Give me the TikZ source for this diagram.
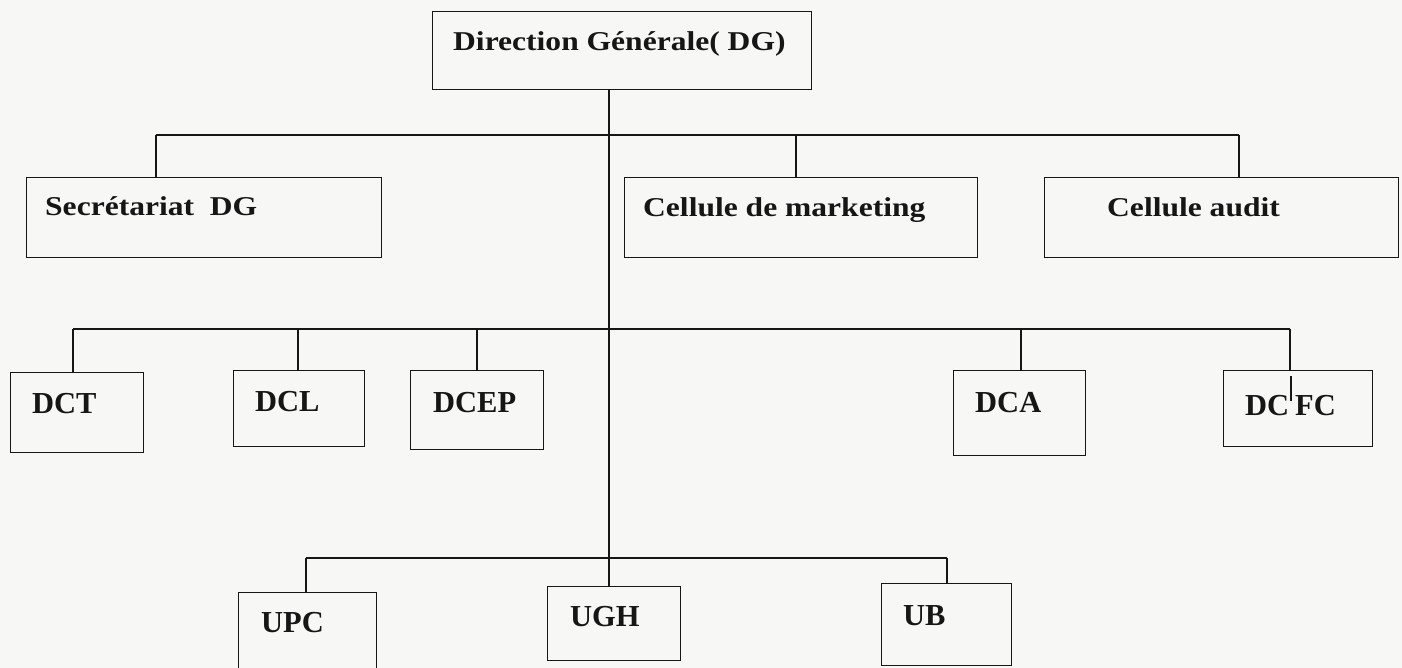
\documentclass[tikz,border=0pt]{standalone}
\usepackage{fontspec}
\setmainfont{Liberation Serif}
% wider face for the labels of the first two levels
\newfontfamily\widefont{Liberation Serif}[FakeStretch=1.16]
\definecolor{paper}{RGB}{247,247,245}
\definecolor{ink}{RGB}{22,22,22}
\begin{document}
\begin{tikzpicture}[x=1pt,y=-1pt,
  unitbox/.style={draw=ink, line width=1.4pt, inner sep=0pt, anchor=north west},
  toplbl/.style={inner sep=0pt, anchor=base west, text=ink, font=\widefont\bfseries\fontsize{27.2}{30}\selectfont},
  lbl/.style={inner sep=0pt, anchor=base west, text=ink, font=\bfseries\fontsize{30.5}{34}\selectfont},
  link/.style={draw=ink, line width=1.4pt}]
\clip (0,0) rectangle (1402,668);
\fill[paper] (0,0) rectangle (1402,668);

% ---- boxes ----
\node[unitbox, minimum width=379pt, minimum height=78pt] (dg)   at (432,11)  {};
\node[unitbox, minimum width=355pt, minimum height=80pt] (sec)  at (26,177)  {};
\node[unitbox, minimum width=353pt, minimum height=80pt] (mkt)  at (624,177) {};
\node[unitbox, minimum width=354pt, minimum height=80pt] (aud)  at (1044,177) {};
\node[unitbox, minimum width=133pt, minimum height=80pt] (dct)  at (10,372)  {};
\node[unitbox, minimum width=131pt, minimum height=76pt] (dcl)  at (233,370) {};
\node[unitbox, minimum width=133pt, minimum height=79pt] (dcep) at (410,370) {};
\node[unitbox, minimum width=132pt, minimum height=85pt] (dca)  at (953,370) {};
\node[unitbox, minimum width=149pt, minimum height=76pt] (dcfc) at (1223,370) {};
\node[unitbox, minimum width=138pt, minimum height=110pt] (upc) at (238,592) {};
\node[unitbox, minimum width=133pt, minimum height=74pt] (ugh)  at (547,586) {};
\node[unitbox, minimum width=130pt, minimum height=82pt] (ub)   at (881,583) {};

% ---- labels ----
\node[toplbl] (dg-t)   at (453,51)  {Direction Générale( DG)};
\node[toplbl] (sec-t)  at (45,216)  {Secrétariat\ \ DG};
\node[toplbl] (mkt-t)  at (643,217) {Cellule de marketing};
\node[toplbl] (aud-t)  at (1107,217) {Cellule audit};
\node[lbl] (dct-t)  at (32,413)  {DCT};
\node[lbl] (dcl-t)  at (255,411) {DCL};
\node[lbl] (dcep-t) at (433,412) {DCEP};
\node[lbl] (dca-t)  at (975,412) {DCA};
\node[lbl] (dcfc-t) at (1245,415) {DC\kern6pt FC};
\node[lbl] (upc-t)  at (261,632) {UPC};
\node[lbl] (ugh-t)  at (570,626) {UGH};
\node[lbl] (ub-t)   at (903,625) {UB};

% ---- attachment points on the box tops ----
\coordinate (sec-in)  at (156,177);
\coordinate (mkt-in)  at (796,177);
\coordinate (aud-in)  at (1239,177);
\coordinate (dct-in)  at (73,372);
\coordinate (dcl-in)  at (298,370);
\coordinate (dcep-in) at (477,370);
\coordinate (dca-in)  at (1021,370);
\coordinate (dcfc-in) at (1290,370);
\coordinate (upc-in)  at (306,592);
\coordinate (ub-in)   at (947,583);
\coordinate (ugh-in)  at (609,586);
\coordinate (dg-out)  at (609,89);

% ---- bus levels ----
\coordinate (bus1) at (609,135);
\coordinate (bus2) at (609,329);
\coordinate (bus3) at (609,558);

% trunk
\draw[link] (dg-out) -- (ugh-in);

% first level: staff cells
\draw[link] (bus1 -| sec-in) -- (bus1 -| aud-in);
\draw[link] (bus1 -| sec-in) -- (sec-in);
\draw[link] (bus1 -| mkt-in) -- (mkt-in);
\draw[link] (bus1 -| aud-in) -- (aud-in);

% second level: central directorates
\draw[link] (bus2 -| dct-in) -- (bus2 -| dcfc-in);
\draw[link] (bus2 -| dct-in)  -- (dct-in);
\draw[link] (bus2 -| dcl-in)  -- (dcl-in);
\draw[link] (bus2 -| dcep-in) -- (dcep-in);
\draw[link] (bus2 -| dca-in)  -- (dca-in);
\draw[link] (bus2 -| dcfc-in) -- (dcfc-in);
\draw[link, line width=1.1pt] ([xshift=1pt,yshift=-6pt]dcfc-in) -- ++(0,25);

% third level: units
\draw[link] (bus3 -| upc-in) -- (bus3 -| ub-in);
\draw[link] (bus3 -| upc-in) -- (upc-in);
\draw[link] (bus3 -| ub-in)  -- (ub-in);
\end{tikzpicture}
\end{document}
